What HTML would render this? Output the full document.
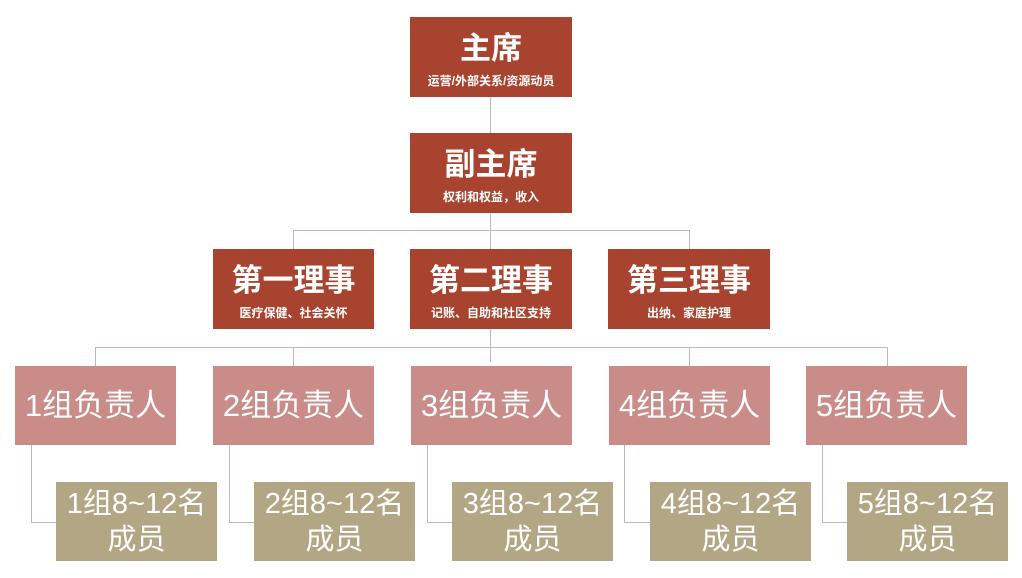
<!DOCTYPE html>
<html><head><meta charset="utf-8"><style>
body{margin:0;width:1022px;height:578px;background:#fff;overflow:hidden;position:relative;font-family:"Liberation Sans","Noto Sans CJK SC",sans-serif}
.b{position:absolute;color:#fff;text-align:center;box-sizing:border-box}
.r{background:#a8432f;height:80px}
.g{background:#c98c89;font-size:31px;line-height:79px;width:161px;height:79px}
.m{background:#b3a685;font-size:29px;line-height:36px;width:161px;height:79px;padding-top:4px}
.t{font-size:31px;line-height:31px;padding-top:16px;font-weight:bold}
.s{font-size:12px;margin-top:8px;font-weight:bold}
.l{position:absolute;background:#c8b4b4}
</style></head><body>
<div class="l" style="left:490px;top:97px;width:1px;height:36px"></div>
<div class="l" style="left:490px;top:213px;width:1px;height:36px"></div>
<div class="l" style="left:293px;top:230px;width:397px;height:1px"></div>
<div class="l" style="left:293px;top:230px;width:1px;height:19px"></div>
<div class="l" style="left:689px;top:230px;width:1px;height:19px"></div>
<div class="l" style="left:490px;top:329px;width:1px;height:33px"></div>
<div class="l" style="left:95px;top:347px;width:792px;height:1px"></div>
<div class="l" style="left:95px;top:347px;width:1px;height:19px"></div>
<div class="l" style="left:293px;top:347px;width:1px;height:19px"></div>
<div class="l" style="left:689px;top:347px;width:1px;height:19px"></div>
<div class="l" style="left:887px;top:347px;width:1px;height:19px"></div>

<div class="b r" style="left:410px;top:17px;width:162px"><div class="t">主席</div><div class="s">运营/外部关系/资源动员</div></div>
<div class="b r" style="left:410px;top:133px;width:162px"><div class="t">副主席</div><div class="s">权利和权益，收入</div></div>
<div class="b r" style="left:213px;top:249px;width:161px"><div class="t">第一理事</div><div class="s">医疗保健、社会关怀</div></div>
<div class="b r" style="left:410px;top:249px;width:162px"><div class="t">第二理事</div><div class="s">记账、自助和社区支持</div></div>
<div class="b r" style="left:608px;top:249px;width:162px"><div class="t">第三理事</div><div class="s">出纳、家庭护理</div></div>

<div class="b g" style="left:15px;top:366px">1组负责人</div>
<div class="b g" style="left:213px;top:366px">2组负责人</div>
<div class="b g" style="left:411px;top:366px">3组负责人</div>
<div class="b g" style="left:609px;top:366px">4组负责人</div>
<div class="b g" style="left:806px;top:366px">5组负责人</div>

<div class="l" style="left:31px;top:445px;width:1px;height:77px"></div><div class="l" style="left:31px;top:522px;width:25px;height:1px"></div>
<div class="l" style="left:229px;top:445px;width:1px;height:77px"></div><div class="l" style="left:229px;top:522px;width:25px;height:1px"></div>
<div class="l" style="left:427px;top:445px;width:1px;height:77px"></div><div class="l" style="left:427px;top:522px;width:25px;height:1px"></div>
<div class="l" style="left:624px;top:445px;width:1px;height:77px"></div><div class="l" style="left:624px;top:522px;width:26px;height:1px"></div>
<div class="l" style="left:822px;top:445px;width:1px;height:77px"></div><div class="l" style="left:822px;top:522px;width:25px;height:1px"></div>

<div class="b m" style="left:56px;top:482px">1组8~12名<br>成员</div>
<div class="b m" style="left:254px;top:482px">2组8~12名<br>成员</div>
<div class="b m" style="left:452px;top:482px">3组8~12名<br>成员</div>
<div class="b m" style="left:650px;top:482px">4组8~12名<br>成员</div>
<div class="b m" style="left:847px;top:482px">5组8~12名<br>成员</div>
</body></html>
